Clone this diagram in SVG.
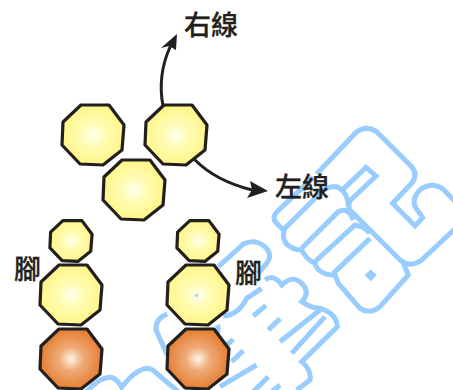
<svg xmlns="http://www.w3.org/2000/svg" width="453" height="390" viewBox="0 0 453 390">
<style>
.wm{fill:none;stroke:#99ccff;stroke-width:15;stroke-linejoin:miter;stroke-linecap:butt}
#octa{stroke:#231f1c;stroke-width:3.2;stroke-linejoin:round;vector-effect:non-scaling-stroke}
.y{fill:url(#yg)}
.o{fill:url(#og)}
.lbl{font-family:"Noto Sans CJK TC","Noto Sans CJK JP",sans-serif;font-size:27px;font-weight:500;fill:#231f1c;stroke:#231f1c;stroke-width:.3}
.con{fill:none;stroke:#231f1c;stroke-width:3;stroke-linecap:round}
.head{fill:#231f1c}
</style>
<defs>
<radialGradient id="yg"><stop offset="0" stop-color="#fffff0"/><stop offset=".4" stop-color="#fffcb4"/><stop offset="1" stop-color="#fff68a"/></radialGradient>
<radialGradient id="og"><stop offset="0" stop-color="#fff4e6"/><stop offset=".4" stop-color="#eeaa78"/><stop offset="1" stop-color="#e67f32"/></radialGradient>
<polygon id="octa" points="-12,-30 16,-30 31,-10 29,15 10,30 -13,29 -31,10 -30,-13"/>
</defs>
<g id="watermark">
<g transform="translate(150 100) scale(.33333)">
<path class="wm" d="M500,222 L620,95 Q650,75 680,95 L785,200 Q805,225 785,250 L728,310 L795,378 L818,353 L795,320 Q785,290 815,265 Q850,245 880,268 L930,320 L930,372 L815,480 Q780,505 750,480 L600,330 Q592,315 602,300 L678,228 L648,202 L575,272"/>
<path class="wm" d="M490,232 L378,338 Q365,355 380,370 L402,392 Q395,425 420,440 Q435,450 455,450 Q470,480 495,490 Q505,525 555,525 L565,550 L630,625 Q660,645 690,620 L775,525 L760,490"/>
<path class="wm" d="M402,388 L490,300 Q530,250 565,262 Q595,280 595,320"/>
<path class="wm" d="M455,445 L565,335 Q595,320 610,360"/>
<path class="wm" d="M495,485 L615,375 Q645,380 660,400"/>
<path class="wm" d="M550,520 L660,415"/>
<path d="M662,508 L680,526 L662,544 L644,526 Z" fill="#99ccff"/>
</g>
<g transform="translate(80 230) scale(.33333)">
<path class="wm" d="M415,110 L490,42 Q525,25 555,50 Q580,75 560,100 L535,130 M555,150 Q580,130 605,165 Q640,130 670,165 Q690,190 665,215 Q695,235 720,235 Q770,250 772,290 L665,395 Q695,420 690,450 L650,480"/>
<path class="wm" d="M545,175 L500,205 Q475,255 430,258"/>
<path class="wm" d="M720,240 L600,335 M735,260 L635,370"/>
<path class="wm" d="M520,258 L558,226 M565,300 L600,266 M440,345 L460,328 M455,395 L490,362 M420,470 L530,405 M500,505 L565,440 M575,485 L600,465"/>
<path class="wm" d="M262,252 Q225,265 228,300 L262,375 M412,285 Q420,300 405,320"/>
<path class="wm" d="M20,485 Q60,440 95,442 Q115,450 125,472 Q165,420 200,415 Q215,415 230,430 L295,485"/>
</g>
</g>
<g id="connectors">
<path class="con" d="M163,106 C159,85 162,65 170,47"/>
<path class="head" d="M177,34 L176,50 L169,46 L161,48 Z"/>
<path class="con" d="M195,160 C210,175 228,184 252,190"/>
<path class="head" d="M268,191 L247,198 L252,190 L250,181 Z"/>
</g>
<g id="node-top-left"><use href="#octa" class="y" transform="translate(93 135)"/></g>
<g id="node-top-right"><use href="#octa" class="y" transform="translate(176 135)"/></g>
<g id="node-center"><use href="#octa" class="y" transform="translate(134 190)"/></g>
<g id="node-left-small"><use href="#octa" class="y" transform="translate(71 241) scale(.68)"/></g>
<g id="node-left-mid"><use href="#octa" class="y" transform="translate(71 295)"/></g>
<g id="node-left-foot"><use href="#octa" class="o" transform="translate(71 359)"/></g>
<g id="node-right-small"><use href="#octa" class="y" transform="translate(198 241) scale(.68)"/></g>
<g id="node-right-mid"><use href="#octa" class="y" transform="translate(198 295)"/><path d="M194,296 L198,293 L198,297 Z" fill="#99ccff"/></g>
<g id="node-right-foot"><use href="#octa" class="o" transform="translate(198 359)"/></g>
<g id="labels">
<text class="lbl" x="184" y="35">右線</text>
<text class="lbl" x="275" y="197">左線</text>
<text class="lbl" x="14" y="279">腳</text>
<text class="lbl" x="235" y="283">腳</text>
</g>
</svg>
